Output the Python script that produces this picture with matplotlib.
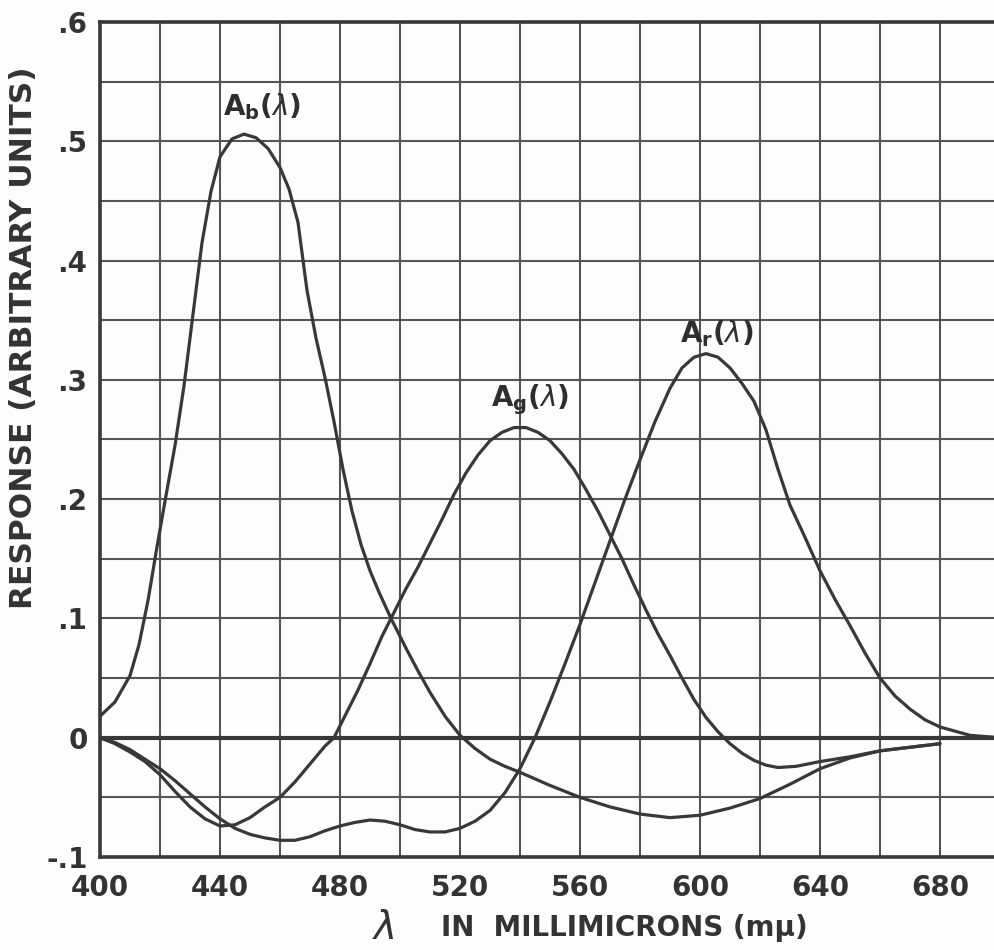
import numpy as np
import matplotlib.pyplot as plt
from matplotlib.ticker import MultipleLocator, FixedLocator, FixedFormatter

# values (wavelength in millimicrons, response)
wl_b = [400, 405, 410, 413, 416, 419, 422, 425, 428, 431, 434, 437, 440, 444,
        448, 452, 456, 460, 463, 466, 469, 472, 475, 478, 481, 484, 487, 490,
        493, 497, 502, 506, 510, 515, 520, 525, 530, 535, 540, 550, 560, 570,
        580, 590, 600, 610, 620, 630, 640, 650, 660, 670, 680]
resp_b = [0.018, 0.030, 0.052, 0.078, 0.115, 0.160, 0.203, 0.245, 0.295, 0.355,
          0.415, 0.458, 0.487, 0.502, 0.506, 0.503, 0.494, 0.478, 0.460, 0.432,
          0.375, 0.335, 0.302, 0.265, 0.225, 0.190, 0.162, 0.140, 0.122, 0.100,
          0.075, 0.056, 0.038, 0.018, 0.002, -0.009, -0.018, -0.024, -0.029,
          -0.040, -0.050, -0.058, -0.064, -0.067, -0.065, -0.059, -0.051,
          -0.039, -0.026, -0.017, -0.011, -0.008, -0.005]

wl_g = [400, 405, 410, 415, 420, 425, 430, 435, 440, 445, 450, 455, 460, 465,
        470, 475, 478, 482, 486, 490, 494, 498, 502, 506, 510, 514, 518, 522,
        526, 530, 534, 538, 542, 546, 550, 554, 558, 562, 566, 570, 574, 578,
        582, 586, 590, 594, 598, 602, 606, 610, 614, 618, 622, 626, 632, 640,
        645, 650, 660, 670, 680]
resp_g = [0.0, -0.005, -0.012, -0.020, -0.031, -0.045, -0.058, -0.068, -0.074,
          -0.073, -0.067, -0.058, -0.050, -0.037, -0.022, -0.007, 0.0, 0.020,
          0.040, 0.062, 0.085, 0.105, 0.125, 0.143, 0.163, 0.183, 0.204, 0.222,
          0.237, 0.249, 0.256, 0.260, 0.260, 0.256, 0.249, 0.238, 0.225, 0.208,
          0.190, 0.170, 0.150, 0.128, 0.107, 0.087, 0.069, 0.050, 0.032, 0.017,
          0.005, -0.005, -0.013, -0.019, -0.023, -0.025, -0.024, -0.020,
          -0.018, -0.016, -0.011, -0.008, -0.005]

wl_r = [400, 405, 410, 415, 420, 425, 430, 435, 440, 445, 450, 455, 460, 465,
        470, 475, 480, 485, 490, 495, 500, 505, 510, 515, 520, 525, 530, 535,
        540, 545, 550, 555, 560, 565, 570, 575, 580, 585, 590, 594, 598, 602,
        606, 610, 614, 618, 622, 626, 630, 635, 640, 645, 650, 655, 660, 665,
        670, 675, 680, 690, 700]
resp_r = [0.0, -0.004, -0.010, -0.018, -0.026, -0.036, -0.047, -0.058, -0.068,
          -0.076, -0.081, -0.084, -0.086, -0.086, -0.083, -0.078, -0.074,
          -0.071, -0.069, -0.070, -0.073, -0.077, -0.079, -0.079, -0.076,
          -0.070, -0.061, -0.046, -0.026, 0.0, 0.030, 0.062, 0.095, 0.130,
          0.165, 0.200, 0.233, 0.265, 0.293, 0.310, 0.319, 0.322, 0.319, 0.310,
          0.297, 0.282, 0.258, 0.225, 0.195, 0.168, 0.140, 0.116, 0.094, 0.071,
          0.050, 0.035, 0.024, 0.015, 0.009, 0.002, 0.0]

x_ticks = [400, 440, 480, 520, 560, 600, 640, 680]
y_ticks = [-0.1, 0, 0.1, 0.2, 0.3, 0.4, 0.5, 0.6]
y_labels = ['-.1', '0', '.1', '.2', '.3', '.4', '.5', '.6']

ink = '#383838'
W, H = 995, 950
fig = plt.figure(figsize=(W / 100, H / 100), dpi=100)
fig.patch.set_facecolor('#fdfdfb')
ax = fig.add_axes([100 / W, (H - 857) / H, 900 / W, 835 / H])
ax.set_facecolor('#fdfdfb')

ax.set_xlim(400, 700)
ax.set_ylim(-0.1, 0.6)
ax.xaxis.set_major_locator(FixedLocator(x_ticks))
ax.xaxis.set_minor_locator(MultipleLocator(20))
ax.yaxis.set_major_locator(FixedLocator(y_ticks))
ax.yaxis.set_major_formatter(FixedFormatter(y_labels))
ax.yaxis.set_minor_locator(MultipleLocator(0.05))
ax.grid(True, which='both', color='#555555', lw=1.5)
ax.set_axisbelow(True)
ax.tick_params(which='both', length=0)
ax.tick_params(axis='x', pad=12, labelsize=20, colors='#333333')
ax.tick_params(axis='y', pad=9, labelsize=20, colors='#333333')
for lab in ax.get_xticklabels() + ax.get_yticklabels():
    lab.set_fontweight('bold')
for s in ['left', 'bottom', 'top']:
    ax.spines[s].set_linewidth(2.6)
    ax.spines[s].set_color(ink)
ax.spines['right'].set_visible(False)

ax.axhline(0, color=ink, lw=3.0, zorder=2)

for wl, resp in [(wl_b, resp_b), (wl_g, resp_g), (wl_r, resp_r)]:
    ax.plot(wl, resp, color=ink, lw=2.3, solid_joinstyle='round',
            solid_capstyle='round', zorder=3)

lab_kw = dict(fontsize=20, fontweight='bold', ha='center', va='center', color='#2e2e2e')
ax.text(454, 0.529, r'A$_\mathbf{b}$($\lambda$)', **lab_kw)
ax.text(543.3, 0.283, r'A$_\mathbf{g}$($\lambda$)', **lab_kw)
ax.text(605.7, 0.339, r'A$_\mathbf{r}$($\lambda$)', **lab_kw)

fig.text(24 / W, 1 - 338 / H, 'RESPONSE (ARBITRARY UNITS)', rotation=90, fontsize=22.5,
         fontweight='bold', ha='center', va='center', color='#333333')
fig.text(383 / W, 1 - 928 / H, r'$\lambda$', fontsize=28, ha='center', va='center', color='#333333')
fig.text(441 / W, 1 - 928 / H, 'IN  MILLIMICRONS (mμ)', fontsize=20, fontweight='bold',
         ha='left', va='center', color='#333333')

fig.savefig('out.png', dpi=100, facecolor=fig.get_facecolor())
